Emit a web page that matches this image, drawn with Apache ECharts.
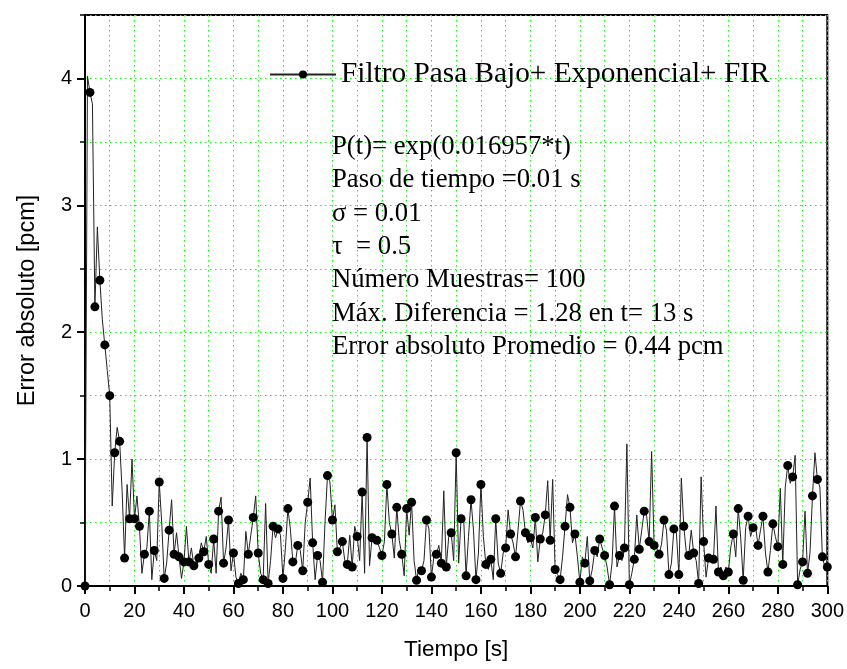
<!DOCTYPE html>
<html>
<head>
<meta charset="utf-8">
<script src="https://cdn.jsdelivr.net/npm/echarts@6/dist/echarts.min.js"></script>
<style>
html,body{margin:0;padding:0;background:#fff;}
#chart{width:847px;height:669px;}
</style>
</head>
<body>
<div id="chart"></div>
<script>
// Time in seconds = index in errorValues (one sample per second, 0..300)
var seriesName = 'Filtro Pasa Bajo+ Exponencial+ FIR';
var xTickLabels = [0,20,40,60,80,100,120,140,160,180,200,220,240,260,280,300];
var yTickLabels = [0,1,2,3,4];
var errorValues = [
  0, 4.02, 3.89, 3.80, 2.20, 2.83, 2.41, 2.10, 1.90, 1.70,
  1.50, 0.63, 1.05, 1.25, 1.14, 0.75, 0.22, 0.80, 0.53, 1.00,
  0.53, 0.71, 0.47, 0.10, 0.25, 0.30, 0.59, 0.05, 0.28, 0.20,
  0.82, 0.50, 0.06, 0.18, 0.44, 0.68, 0.25, 0.42, 0.23, 0.06,
  0.19, 0.47, 0.19, 0.30, 0.16, 0.15, 0.22, 0.34, 0.27, 0.39,
  0.17, 0.10, 0.37, 0.10, 0.59, 0.70, 0.18, 0.30, 0.52, 0.12,
  0.26, 0.07, 0.02, 0.10, 0.05, 0.43, 0.25, 0.40, 0.54, 0.71,
  0.26, 0.10, 0.05, 0.65, 0.02, 0.20, 0.47, 0.38, 0.45, 0.40,
  0.06, 0.30, 0.61, 0.45, 0.19, 0.18, 0.32, 0.28, 0.12, 0.50,
  0.66, 0.85, 0.34, 0.05, 0.24, 0.20, 0.03, 0.50, 0.87, 0.82,
  0.52, 0.64, 0.27, 0.30, 0.35, 0.20, 0.17, 0.40, 0.15, 0.47,
  0.39, 0.20, 0.74, 0.10, 1.17, 0.16, 0.38, 0.35, 0.36, 0.30,
  0.24, 0.35, 0.80, 0.50, 0.41, 0.22, 0.62, 0.36, 0.25, 0.08,
  0.61, 0.40, 0.66, 0.20, 0.045, 0.15, 0.12, 0.20, 0.52, 0.45,
  0.07, 0.23, 0.25, 0.32, 0.18, 0.75, 0.15, 0.39, 0.42, 0.20,
  1.05, 0.18, 0.53, 0.55, 0.08, 0.39, 0.68, 0.44, 0.05, 0.26,
  0.80, 0.39, 0.17, 0.13, 0.21, 0.05, 0.53, 0.18, 0.10, 0.26,
  0.30, 0.60, 0.41, 0.34, 0.23, 0.44, 0.67, 0.60, 0.42, 0.34,
  0.38, 0.30, 0.54, 0.19, 0.37, 0.42, 0.56, 0.83, 0.36, 0.84,
  0.13, 0.09, 0.05, 0.23, 0.47, 0.72, 0.62, 0.34, 0.41, 0.23,
  0.03, 0.23, 0.18, 0.39, 0.04, 0.13, 0.28, 0.23, 0.37, 0.30,
  0.24, 0.15, 0.01, 0.18, 0.63, 0.15, 0.24, 0.20, 0.30, 1.12,
  0.01, 0.10, 0.21, 0.56, 0.29, 0.44, 0.59, 0.55, 0.35, 1.06,
  0.32, 0.30, 0.25, 0.33, 0.52, 0.44, 0.09, 0.18, 0.45, 0.42,
  0.09, 0.85, 0.47, 0.27, 0.24, 0.44, 0.26, 0.20, 0.02, 0.86,
  0.35, 0.07, 0.22, 0.20, 0.21, 0.63, 0.11, 0.15, 0.08, 0.15,
  0.11, 0.31, 0.41, 0.23, 0.61, 0.38, 0.045, 0.46, 0.55, 0.39,
  0.46, 0.47, 0.32, 0.44, 0.55, 0.26, 0.11, 0.28, 0.49, 0.39,
  0.31, 0.77, 0.17, 0.78, 0.95, 0.81, 0.86, 1.03, 0.01, 0.13,
  0.19, 0.59, 0.10, 0.26, 0.71, 1.05, 0.84, 0.78, 0.23, 0.15,
  0.15
];
var annotationLines = [
  'P(t)= exp(0.016957*t)',
  'Paso de tiempo =0.01 s',
  '\u03c3 = 0.01',
  '\u03c4  = 0.5',
  'N\u00famero Muestras= 100',
  'M\u00e1x. Diferencia = 1.28 en t= 13 s',
  'Error absoluto Promedio = 0.44 pcm'
];

var seriesData = errorValues.map(function (v, i) { return [i, v]; });

var chart = echarts.init(document.getElementById('chart'), null, {renderer: 'canvas'});
function gridStyle() {
  return {show: true, lineStyle: {color: '#00ff00', type: [1.5, 3.5], width: 1, opacity: 1}};
}
var graphics = annotationLines.map(function (txt, i) {
  return {
    type: 'text', x: 332, y: 147 + i * 33.3, z: 10,
    style: {text: txt, fill: '#000', verticalAlign: 'middle',
      font: '26.7px "Liberation Serif", "Times New Roman", serif'}
  };
});

chart.setOption({
  animation: false,
  backgroundColor: '#fff',
  grid: {left: 85, top: 15, width: 743, height: 571, show: true, borderColor: '#000', borderWidth: 2},
  legend: {
    show: true, left: 264, top: 55, itemWidth: 66, itemHeight: 10, itemGap: 10,
    textStyle: {fontFamily: 'Liberation Serif', fontSize: 29.3, color: '#000'},
    data: [seriesName]
  },
  xAxis: {
    type: 'value', min: 0, max: 300, interval: 20,
    name: 'Tiempo [s]', nameLocation: 'middle', nameGap: 52,
    nameTextStyle: {fontFamily: 'Liberation Sans', fontSize: 22.5, color: '#000'},
    axisLine: {show: true, onZero: false, lineStyle: {color: '#000', width: 2}},
    axisTick: {show: true, length: 8, lineStyle: {color: '#000', width: 2}},
    minorTick: {show: true, splitNumber: 2, length: 5, lineStyle: {color: '#000', width: 1.5}},
    axisLabel: {fontFamily: 'Liberation Sans', fontSize: 20, color: '#000', margin: 15,
      customValues: xTickLabels},
    splitLine: gridStyle(),
    minorSplitLine: gridStyle()
  },
  yAxis: [{
    type: 'value', min: 0, max: 4.5, interval: 0.5,
    name: 'Error absoluto [pcm]', nameLocation: 'middle', nameGap: 45,
    nameTextStyle: {fontFamily: 'Liberation Sans', fontSize: 23.5, color: '#000'},
    axisLine: {show: true, onZero: false, lineStyle: {color: '#000', width: 2}},
    axisTick: {show: true, length: 5, lineStyle: {color: '#000', width: 1.5}},
    axisLabel: {fontFamily: 'Liberation Sans', fontSize: 20, color: '#000', margin: 13,
      customValues: yTickLabels},
    splitLine: gridStyle()
  }, {
    type: 'value', min: 0, max: 4.5, position: 'left',
    axisLine: {show: false},
    axisTick: {show: true, length: 8, lineStyle: {color: '#000', width: 2}, customValues: yTickLabels},
    axisLabel: {show: false},
    splitLine: {show: false}
  }],
  series: [{
    name: seriesName,
    type: 'line',
    data: seriesData,
    yAxisIndex: 0,
    symbol: 'circle',
    symbolSize: function (val, params) { return params.dataIndex % 2 === 0 ? 9 : 0; },
    showAllSymbol: true,
    lineStyle: {color: '#222', width: 1},
    itemStyle: {color: '#000'},
    z: 3
  }],
  graphic: graphics
});
</script>
</body>
</html>
